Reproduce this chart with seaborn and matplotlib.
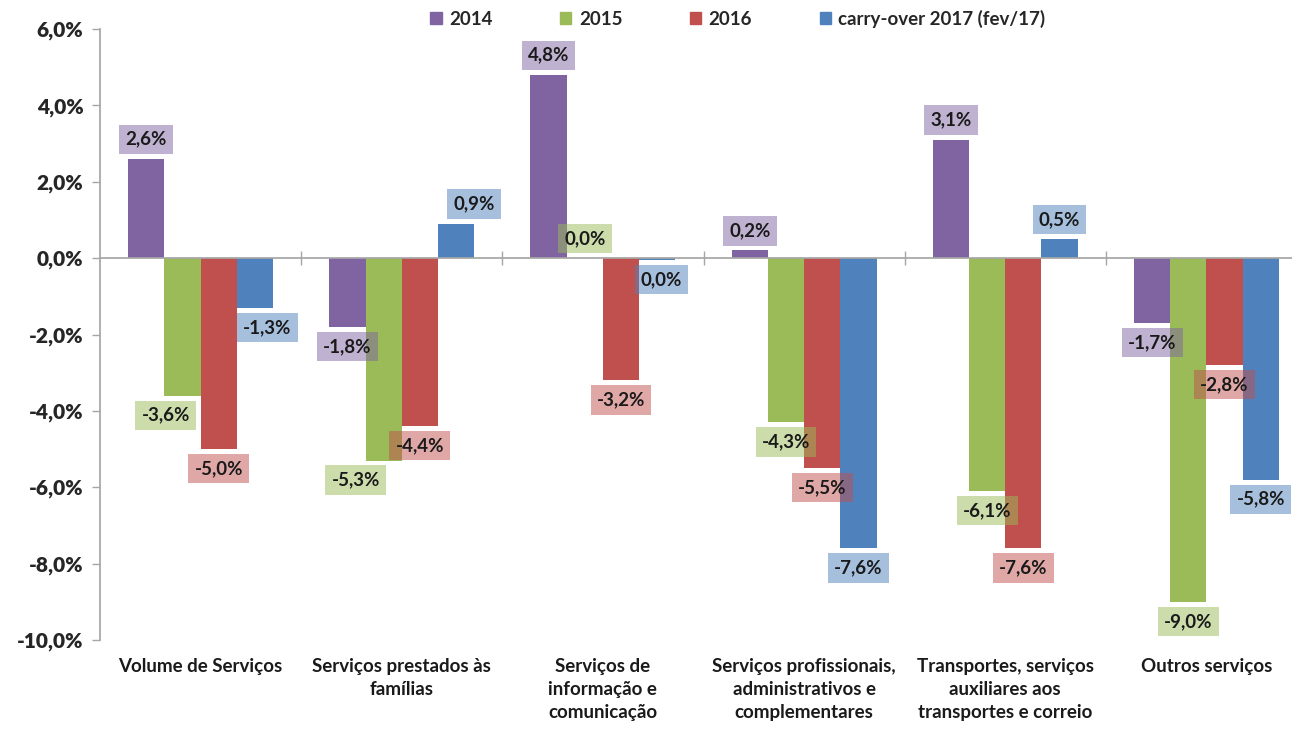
import pandas as pd
import matplotlib.pyplot as plt
import matplotlib.patches as mpatches
from matplotlib.ticker import FuncFormatter
import seaborn as sns

categories = [
    "Volume de Serviços",
    "Serviços prestados às\nfamílias",
    "Serviços de\ninformação e\ncomunicação",
    "Serviços profissionais,\nadministrativos e\ncomplementares",
    "Transportes, serviços\nauxiliares aos\ntransportes e correio",
    "Outros serviços",
]
series = ["2014", "2015", "2016", "carry-over 2017 (fev/17)"]

v2014 = [2.6, -1.8, 4.8, 0.2, 3.1, -1.7]
v2015 = [-3.6, -5.3, 0.0, -4.3, -6.1, -9.0]
v2016 = [-5.0, -4.4, -3.2, -5.5, -7.6, -2.8]
v2017 = [-1.3, 0.9, -0.04, -7.6, 0.5, -5.8]

colors = ["#8064A2", "#9BBB59", "#C0504D", "#4F81BD"]

# horizontal nudges (points) of a few value boxes, as in the original
label_shift = {
    (1, 0): -12, (3, 0): 9,
    (1, 1): -20, (3, 1): 13,
    (3, 2): 3,
}

rows = []
for name, vals in zip(series, [v2014, v2015, v2016, v2017]):
    for cat, v in zip(categories, vals):
        rows.append({"categoria": cat, "serie": name, "valor": v})
df = pd.DataFrame(rows)

sns.set_theme(style="white")
plt.rcParams["font.family"] = ["Lato", "DejaVu Sans"]
plt.rcParams["font.weight"] = "bold"

fig = plt.figure(figsize=(12.92, 7.29), dpi=100)
ax = fig.add_axes([100 / 1292, 1 - 640 / 729, 1207 / 1292, 611 / 729])

sns.barplot(data=df, x="categoria", y="valor", hue="serie", order=categories,
            hue_order=series, palette=colors, width=0.72, gap=0, saturation=1,
            linewidth=0, legend=False, ax=ax)

ax.set_ylim(-10, 6)
ax.set_xlim(-0.5, 5.5)
ax.set_yticks(range(-10, 7, 2))
ax.yaxis.set_major_formatter(FuncFormatter(lambda v, p: f"{v:.1f}%".replace(".", ",")))
ax.tick_params(axis="y", labelsize=15, length=6, width=1, color="#A6A6A6",
               left=True, pad=6)
for t in ax.get_yticklabels():
    t.set_fontweight("heavy")

for s in ["top", "right"]:
    ax.spines[s].set_visible(False)
ax.spines["left"].set_color("#A6A6A6")
ax.spines["bottom"].set_color("#A6A6A6")
ax.spines["bottom"].set_position(("data", 0))

ax.set_xticks(range(len(categories)))
ax.set_xticklabels([])
ax.set_xticks([i + 0.5 for i in range(len(categories) - 1)], minor=True)
ax.tick_params(axis="x", which="major", length=0)
ax.tick_params(axis="x", which="minor", length=10, direction="inout",
               color="#A6A6A6", width=1, bottom=True)
ax.set_xlabel("")
ax.set_ylabel("")

for i, cat in enumerate(categories):
    ax.annotate(cat, xy=(i, -10), xytext=(0, -13), textcoords="offset points",
                ha="center", va="top", fontsize=13.5, fontweight="bold",
                linespacing=1.42, color="#1a1a1a", annotation_clip=False)

for j, vals in enumerate([v2014, v2015, v2016, v2017]):
    for i, bar in enumerate(ax.containers[j]):
        v = vals[i]
        txt = f"{round(v, 1) + 0.0:.1f}%".replace(".", ",")
        x = bar.get_x() + bar.get_width() / 2
        dx = label_shift.get((j, i), 0)
        dy, va = (8, "bottom") if v >= 0 else (-8, "top")
        ax.annotate(txt, xy=(x, v), xytext=(dx, dy), textcoords="offset points",
                    ha="center", va=va, fontsize=13.5, fontweight="bold",
                    color="#1a1a1a", zorder=5,
                    bbox=dict(boxstyle="square,pad=0.33", fc=colors[j],
                              ec="none", alpha=0.5))

handles = [mpatches.Patch(color=c, label=s) for c, s in zip(colors, series)]
fig.legend(handles=handles, loc="center", bbox_to_anchor=(738 / 1292, 1 - 19 / 729),
           ncol=4, frameon=False, handlelength=0.6, handleheight=0.6,
           handletextpad=0.4, columnspacing=3.6, prop={"weight": "bold", "size": 13.5})

fig.savefig("out.png", dpi=100)
